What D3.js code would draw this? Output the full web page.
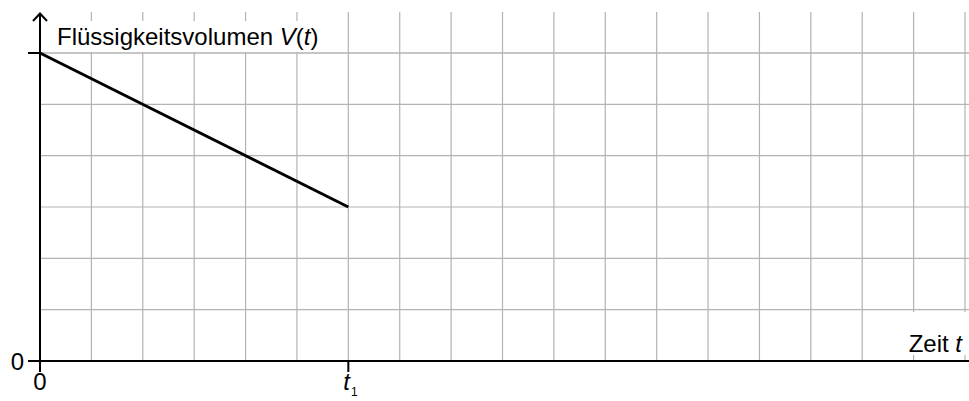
<!DOCTYPE html>
<html>
<head>
<meta charset="utf-8">
<script src="https://cdn.jsdelivr.net/npm/d3@7"></script>
<style>
  body { margin: 0; background: #fff; }
  svg { display: block; font-family: "Liberation Sans", Arial, sans-serif; }
</style>
</head>
<body>
<svg id="chart" width="969" height="401"></svg>
<script>
// grid extent in units
const gridCols = 18;
const gridRows = 6;

// the liquid volume line
const times = [0, 6];
const volumes = [6, 3];

// tick labels
const yTickValues = [0, 6];
const yTickLabels = ["0", ""];
const xTickValues = [0, 6];
const xTickLabels = ["0", "t1"];

const yTitle = "Flüssigkeitsvolumen ";
const xTitle = "Zeit ";

const svg = d3.select("#chart");

const x = d3.scaleLinear().domain([0, gridCols]).range([40, 965]);
const y = d3.scaleLinear().domain([0, gridRows]).range([361, 53]);

// grid
const grid = svg.append("g").attr("stroke", "#b3b3b3").attr("stroke-width", 1.2);
grid.selectAll(".v")
  .data(d3.range(1, gridCols + 1))
  .enter()
  .append("line")
  .attr("x1", d => x(d)).attr("x2", d => x(d))
  .attr("y1", 12).attr("y2", y(0));
grid.selectAll(".h")
  .data(d3.range(1, gridRows + 1))
  .enter()
  .append("line")
  .attr("x1", x(0)).attr("x2", 969)
  .attr("y1", d => y(d)).attr("y2", d => y(d));

// white boxes behind the titles
svg.append("rect").attr("x", 54).attr("y", 21).attr("width", 268).attr("height", 31).attr("fill", "#fff");
svg.append("rect").attr("x", 905).attr("y", 312).attr("width", 64).attr("height", 43).attr("fill", "#fff");

// redraw top horizontal grid line over the box
svg.append("line")
  .attr("x1", x(0)).attr("x2", 969)
  .attr("y1", y(gridRows)).attr("y2", y(gridRows))
  .attr("stroke", "#b3b3b3").attr("stroke-width", 1.2);

// axes
const axes = svg.append("g").attr("stroke", "#000").attr("stroke-width", 2).attr("fill", "none");
axes.append("line").attr("x1", x(0)).attr("x2", 969).attr("y1", y(0)).attr("y2", y(0));
axes.append("line").attr("x1", x(0)).attr("x2", x(0)).attr("y1", y(0) + 11).attr("y2", 13);
axes.append("path").attr("d", `M${x(0) - 7},21 L${x(0)},13.5 L${x(0) + 7},21`);

// ticks
axes.selectAll(".yt")
  .data(yTickValues)
  .enter()
  .append("line")
  .attr("x1", x(0) - 12).attr("x2", x(0))
  .attr("y1", d => y(d)).attr("y2", d => y(d));
axes.selectAll(".xt")
  .data(xTickValues)
  .enter()
  .append("line")
  .attr("x1", d => x(d)).attr("x2", d => x(d))
  .attr("y1", y(0)).attr("y2", y(0) + 11);

// volume line
svg.append("path")
  .datum(times.map((t, i) => [t, volumes[i]]))
  .attr("fill", "none")
  .attr("stroke", "#000")
  .attr("stroke-width", 3)
  .attr("d", d3.line().x(d => x(d[0])).y(d => y(d[1])));

// labels
const fs = 24;
svg.selectAll(".ylab")
  .data(yTickValues)
  .enter()
  .append("text")
  .attr("x", 24).attr("y", d => y(d) + 8.5)
  .attr("text-anchor", "end")
  .attr("font-size", fs)
  .text((d, i) => yTickLabels[i]);

xTickValues.forEach((v, i) => {
  const lab = xTickLabels[i];
  if (lab === "t1") {
    const t = svg.append("text")
      .attr("x", x(v) - 5).attr("y", 390)
      .attr("font-size", fs);
    t.append("tspan").attr("font-style", "italic").text("t");
    t.append("tspan").attr("font-size", 12).attr("dx", 1).attr("dy", 6).text("1");
  } else {
    svg.append("text")
      .attr("x", x(v)).attr("y", 390)
      .attr("text-anchor", "middle")
      .attr("font-size", fs)
      .text(lab);
  }
});

const yt = svg.append("text").attr("x", 57).attr("y", 45).attr("font-size", fs).text(yTitle);
yt.append("tspan").attr("font-style", "italic").text("V");
yt.append("tspan").text("(");
yt.append("tspan").attr("font-style", "italic").text("t");
yt.append("tspan").text(")");

const xt = svg.append("text").attr("x", 962).attr("y", 352).attr("text-anchor", "end").attr("font-size", fs).text(xTitle);
xt.append("tspan").attr("font-style", "italic").text("t");
</script>
</body>
</html>
